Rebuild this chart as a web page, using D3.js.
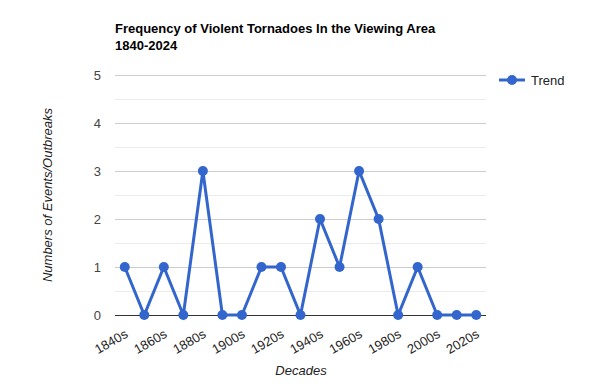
<!DOCTYPE html>
<html>
<head>
<meta charset="utf-8">
<script src="https://cdn.jsdelivr.net/npm/d3@7"></script>
<style>
  body { margin: 0; background: #fff; }
  svg { display: block; font-family: Arial, "Liberation Sans", sans-serif; }
</style>
</head>
<body>
<svg id="chart" width="600" height="390"></svg>
<script>
// Data
var decades = ["1840s", "1850s", "1860s", "1870s", "1880s", "1890s", "1900s", "1910s", "1920s", "1930s",
  "1940s", "1950s", "1960s", "1970s", "1980s", "1990s", "2000s", "2010s", "2020s"];
var trend = [1, 0, 1, 0, 3, 0, 0, 1, 1, 0, 2, 1, 3, 2, 0, 1, 0, 0, 0];
var yTicks = [0, 1, 2, 3, 4, 5];
var yMinorTicks = [0.5, 1.5, 2.5, 3.5, 4.5];
var titleLines = ["Frequency of Violent Tornadoes In the Viewing Area", "1840-2024"];
var seriesName = "Trend";

var svg = d3.select("#chart");
var plot = { left: 115, right: 486, top: 75, bottom: 315 };
var blue = "#3366cc";

var x = d3.scalePoint()
  .domain(decades)
  .range([plot.left, plot.right])
  .padding(0.5);
var y = d3.scaleLinear()
  .domain([0, 5])
  .range([plot.bottom, plot.top]);

// Title
svg.append("text")
  .attr("x", 115)
  .attr("y", 33)
  .attr("font-size", 13)
  .attr("font-weight", "bold")
  .attr("fill", "#000")
  .selectAll("tspan")
  .data(titleLines)
  .enter()
  .append("tspan")
  .attr("x", 115)
  .attr("dy", function (d, i) { return i === 0 ? 0 : 17; })
  .text(function (d) { return d; });

// Gridlines
svg.append("g")
  .selectAll("line")
  .data(yMinorTicks)
  .enter()
  .append("line")
  .attr("x1", plot.left).attr("x2", plot.right)
  .attr("y1", function (d) { return y(d) + 0.5; })
  .attr("y2", function (d) { return y(d) + 0.5; })
  .attr("stroke", "#ebebeb");

var yAxis = svg.append("g")
  .attr("transform", "translate(" + plot.left + ",0)")
  .call(d3.axisLeft(y).tickValues(yTicks).tickFormat(d3.format("d"))
    .tickSize(-(plot.right - plot.left)).tickPadding(14));
yAxis.select(".domain").remove();
yAxis.selectAll(".tick line")
  .attr("stroke", function (d) { return d === 0 ? "#333" : "#ccc"; });
yAxis.selectAll(".tick text")
  .attr("font-size", 13)
  .attr("font-family", "Arial, 'Liberation Sans', sans-serif")
  .attr("fill", "#444");

// X axis labels
var xAxis = svg.append("g")
  .attr("transform", "translate(0," + plot.bottom + ")")
  .call(d3.axisBottom(x).tickValues(decades.filter(function (d, i) { return i % 2 === 0; })).tickSize(0));
xAxis.select(".domain").remove();
xAxis.selectAll(".tick text")
  .attr("font-size", 13)
  .attr("font-family", "Arial, 'Liberation Sans', sans-serif")
  .attr("fill", "#222")
  .attr("text-anchor", "end")
  .attr("dy", 0)
  .attr("transform", "translate(2,19) rotate(-30)");

// Axis titles
svg.append("text")
  .attr("x", 301)
  .attr("y", 375)
  .attr("text-anchor", "middle")
  .attr("font-size", 13)
  .attr("font-style", "italic")
  .attr("fill", "#222")
  .text("Decades");
svg.append("text")
  .attr("transform", "translate(52," + ((plot.top + plot.bottom) / 2) + ") rotate(-90)")
  .attr("text-anchor", "middle")
  .attr("font-size", 13)
  .attr("font-style", "italic")
  .attr("fill", "#222")
  .text("Numbers of Events/Outbreaks");

// Series
var line = d3.line()
  .x(function (d, i) { return x(decades[i]); })
  .y(function (d) { return y(d); });
svg.append("path")
  .datum(trend)
  .attr("d", line)
  .attr("fill", "none")
  .attr("stroke", blue)
  .attr("stroke-width", 3)
  .attr("stroke-linejoin", "miter");
svg.append("g")
  .selectAll("circle")
  .data(trend)
  .enter()
  .append("circle")
  .attr("cx", function (d, i) { return x(decades[i]); })
  .attr("cy", function (d) { return y(d); })
  .attr("r", 5)
  .attr("fill", blue);

// Legend
var legend = svg.append("g").attr("transform", "translate(499,80)");
legend.append("line")
  .attr("x1", 0).attr("x2", 26)
  .attr("stroke", blue)
  .attr("stroke-width", 3);
legend.append("circle").attr("cx", 13).attr("r", 5).attr("fill", blue);
legend.append("text")
  .attr("x", 32)
  .attr("y", 5)
  .attr("font-size", 13)
  .attr("fill", "#222")
  .text(seriesName);
</script>
</body>
</html>
